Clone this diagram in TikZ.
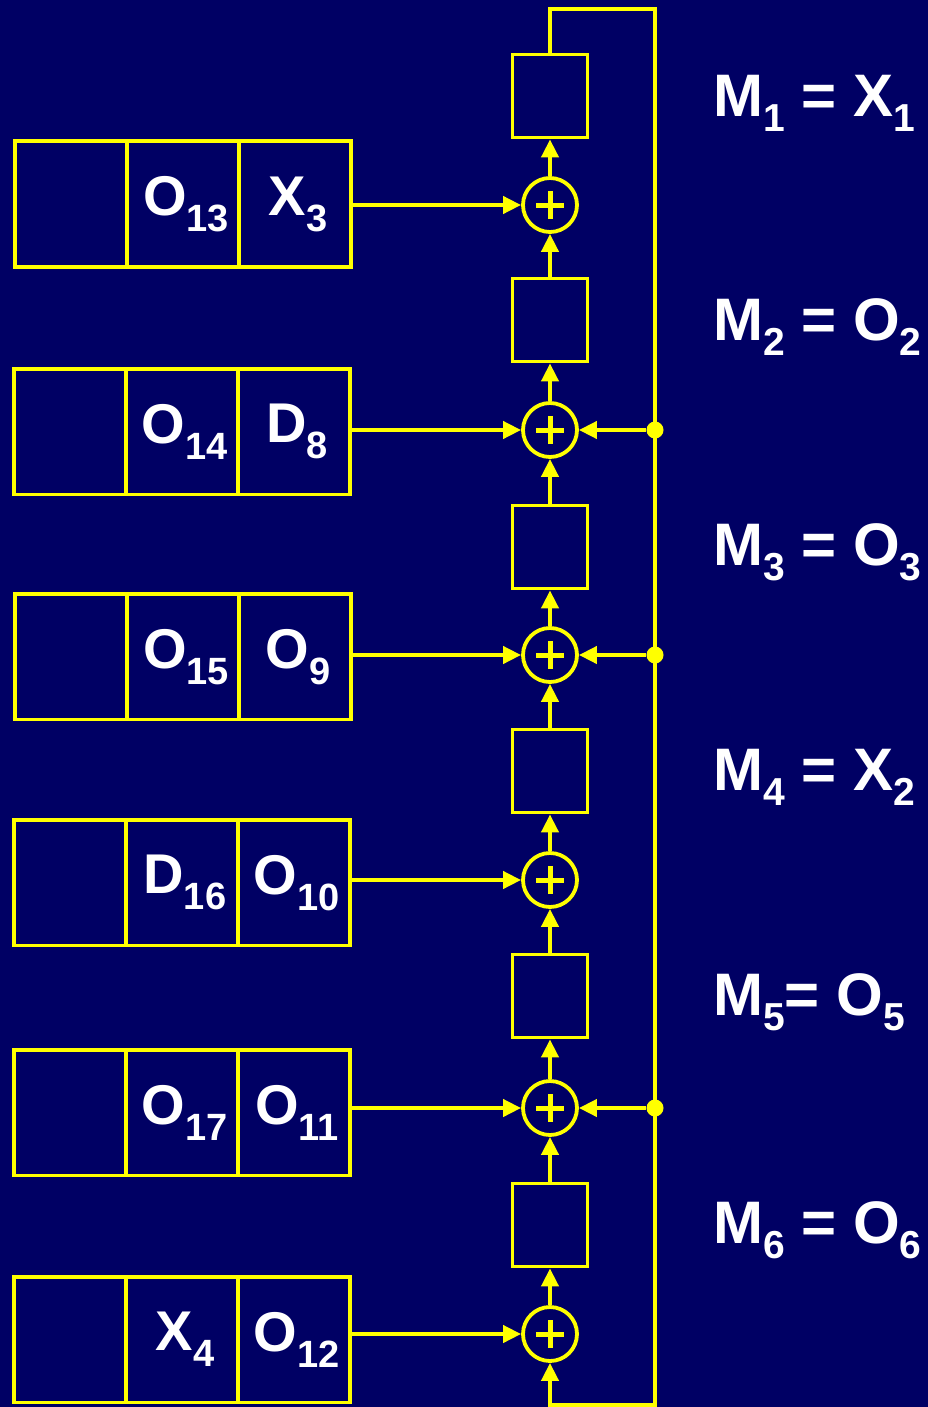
\documentclass[tikz,border=0pt]{standalone}
\usepackage{fontspec}
\setmainfont{Liberation Sans}
\usetikzlibrary{arrows.meta}
\definecolor{bg}{RGB}{0,0,100}
\definecolor{yel}{RGB}{255,255,0}
\newcommand\rsub[1]{\raisebox{-16pt}{\fontsize{38}{38}\selectfont #1}}
\newcommand\lsub[1]{\raisebox{-15pt}{\fontsize{39}{39}\selectfont #1}}
\begin{document}
\begin{tikzpicture}[x=1pt,y=-1pt,
  wire/.style={draw=yel,line width=4pt},
  arr/.style={wire,-{Triangle[length=18pt,width=17pt]}},
  cell/.style={draw=yel,line width=3.8pt,minimum width=112pt,minimum height=125.5pt,inner sep=0pt,text=white,font=\fontsize{56}{56}\selectfont\bfseries,anchor=north west},
  delay/.style={draw=yel,line width=3.8pt,minimum width=75pt,minimum height=83pt,inner sep=0pt},
  adder/.style={circle,draw=yel,line width=3.8pt,minimum size=54pt,inner sep=0pt},
  dot/.style={circle,fill=yel,minimum size=17pt,inner sep=0pt},
  plus/.style={draw=yel,line width=5pt},
  lbl/.style={text=white,font=\fontsize{60}{60}\selectfont\bfseries,anchor=base west,inner sep=0pt}]
\fill[bg] (0,0) rectangle (928,1407);
\useasboundingbox (0,0) rectangle (928,1407);

% shift registers
\node[cell] (ra1) at (13.3,139.5) {};
\node[cell] (rb1) at (125.3,139.5) {\hspace*{6pt}O\rsub{13}};
\node[cell] (rc1) at (237.3,139.5) {\hspace*{6pt}X\rsub{3}};

\node[cell] (ra2) at (12,367) {};
\node[cell] (rb2) at (124,367) {\hspace*{6pt}O\rsub{14}};
\node[cell] (rc2) at (236,367) {\hspace*{6pt}D\rsub{8}};

\node[cell] (ra3) at (13.3,592) {};
\node[cell] (rb3) at (125.3,592) {\hspace*{6pt}O\rsub{15}};
\node[cell] (rc3) at (237.3,592) {\hspace*{6pt}O\rsub{9}};

\node[cell] (ra4) at (12,818) {};
\node[cell] (rb4) at (124,818) {\hspace*{6pt}D\rsub{16}};
\node[cell] (rc4) at (236,818) {\hspace*{6pt}O\rsub{10}};

\node[cell] (ra5) at (12,1048) {};
\node[cell] (rb5) at (124,1048) {\hspace*{6pt}O\rsub{17}};
\node[cell] (rc5) at (236,1048) {\hspace*{6pt}O\rsub{11}};

\node[cell] (ra6) at (12,1275) {};
\node[cell] (rb6) at (124,1275) {\hspace*{6pt}X\rsub{4}};
\node[cell] (rc6) at (236,1275) {\hspace*{6pt}O\rsub{12}};

% delay boxes
\node[delay] (d1) at (550,96) {};
\node[delay] (d2) at (550,320) {};
\node[delay] (d3) at (550,547) {};
\node[delay] (d4) at (550,771) {};
\node[delay] (d5) at (550,996) {};
\node[delay] (d6) at (550,1225) {};

% adders
\node[adder] (a1) at (550,205) {};
\node[adder] (a2) at (550,430) {};
\node[adder] (a3) at (550,655) {};
\node[adder] (a4) at (550,880) {};
\node[adder] (a5) at (550,1108) {};
\node[adder] (a6) at (550,1334) {};
\foreach \i in {1,...,6}{
  \draw[plus] ([xshift=-14pt]a\i.center) -- ([xshift=14pt]a\i.center);
  \draw[plus] ([yshift=-14pt]a\i.center) -- ([yshift=14pt]a\i.center);
  \draw[arr] (rc\i.east |- a\i.center) -- (a\i.west);
  \draw[arr] (a\i.north) -- (d\i.south);
}
\foreach \i/\j in {1/2,2/3,3/4,4/5,5/6}{
  \draw[arr] (d\j.north) -- (a\i.south);
}

% feedback loop
\coordinate (fbTR) at (655,9);
\coordinate (fbBR) at (655,1405);
\draw[arr] (d1.north) |- (fbTR) -- (fbBR) -| (a6.south);
\node[dot] (j2) at (655,430) {};
\node[dot] (j3) at (655,655) {};
\node[dot] (j5) at (655,1108) {};
\draw[arr] (j2) -- (a2.east);
\draw[arr] (j3) -- (a3.east);
\draw[arr] (j5) -- (a5.east);

% labels
\node[lbl] (m1) at (713,117) {M\lsub{1} = X\lsub{1}};
\node[lbl] (m2) at (713,340) {M\lsub{2} = O\lsub{2}};
\node[lbl] (m3) at (713,565) {M\lsub{3} = O\lsub{3}};
\node[lbl] (m4) at (713,790) {M\lsub{4} = X\lsub{2}};
\node[lbl] (m5) at (713,1015) {M\lsub{5}= O\lsub{5}};
\node[lbl] (m6) at (713,1243) {M\lsub{6} = O\lsub{6}};
\end{tikzpicture}
\end{document}
